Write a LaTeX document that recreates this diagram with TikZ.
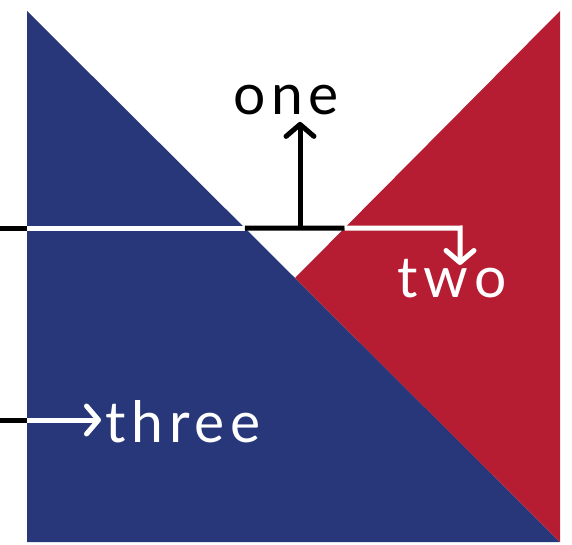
\documentclass[tikz,border=0pt]{standalone}
\usepackage{fontspec}
\setmainfont{Lato}
\newfontfamily\flagfont[LetterSpace=10]{Lato}
\usetikzlibrary{arrows.meta}

\definecolor{flagblue}{RGB}{40,55,122}
\definecolor{flagred}{RGB}{182,28,50}

\begin{document}
\begin{tikzpicture}[x=1pt, y=-1pt, line width=5pt,
    flagtext/.style={inner sep=0pt, font=\flagfont\fontsize{57}{60}\selectfont},
    pointer/.style={-{Straight Barb[length=12pt, width=28pt, round]}}]
    \useasboundingbox (0,0) rectangle (572,545);

    % Flag
    \coordinate (tl) at (27,11);
    \coordinate (tr) at (560,11);
    \coordinate (bl) at (27,542);
    \coordinate (br) at (560,542);
    \coordinate (apex) at (295,278);
    \fill[flagblue] (tl) -- (br) -- (bl) -- cycle;
    \fill[flagred] (tr) -- (br) -- (apex) -- cycle;

    % Words
    \node[flagtext, anchor=base] (one) at (286,115) {one};
    \node[flagtext, white, anchor=base] (two) at (452,297) {two};
    \node[flagtext, white, anchor=base west] (three) at (103,442) {three};

    % Rail points
    \coordinate (railL) at (0,228);
    \coordinate (railEnd) at (460,228);
    \coordinate (twoTip) at (460,265);
    \coordinate (oneFoot) at (300,228);
    \coordinate (crossL) at (27,228);
    \coordinate (crossB) at (intersection of tl--br and railL--railEnd);
    \coordinate (crossR) at (intersection of tr--apex and railL--railEnd);
    \coordinate (threeL) at (0,420);
    \coordinate (threeIn) at (27,420);

    % Arrows
    \draw (railL) -- (crossL);
    \draw[white] (crossL) -- (crossB);
    \draw (crossB) -- (crossR);
    \draw[white, pointer] (crossR) -- (railEnd) -- (twoTip);
    \draw[pointer, shorten >=4pt] (oneFoot) -- (oneFoot |- one.south);
    \draw (threeL) -- (threeIn);
    \draw[white, pointer, shorten >=2pt] (threeIn) -- (threeIn -| three.west);
\end{tikzpicture}
\end{document}
